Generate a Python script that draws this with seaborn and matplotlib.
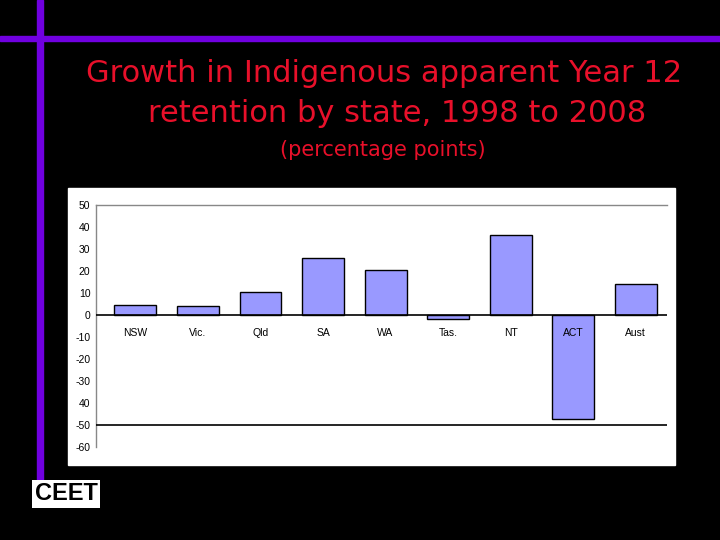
import matplotlib
matplotlib.use("Agg")
import matplotlib.pyplot as plt
import seaborn as sns
import pandas as pd
from matplotlib.patches import Rectangle

# data
states = ["NSW", "Vic.", "Qld", "SA", "WA", "Tas.", "NT", "ACT", "Aust"]
growth = [4.5, 4.0, 10.3, 25.8, 20.3, -2.0, 36.4, -47.1, 14.1]
ytick_vals = [50, 40, 30, 20, 10, 0, -10, -20, -30, -40, -50, -60]
ytick_text = ["50", "40", "30", "20", "10", "0", "-10", "-20", "-30", "40", "-50", "-60"]

df = pd.DataFrame({"state": states, "growth": growth})

sns.set_style("white")
plt.rcParams["font.family"] = ["Liberation Sans", "DejaVu Sans"]

fig = plt.figure(figsize=(7.2, 5.4), dpi=100, facecolor="black")

# purple slide frame lines
fig.add_artist(Rectangle((0, 1 - 41 / 540), 1, 5 / 540, transform=fig.transFigure,
                         color="#7000e0", zorder=0))
fig.add_artist(Rectangle((37 / 720, 1 - 480 / 540), 6 / 720, 480 / 540, transform=fig.transFigure,
                         color="#7000e0", zorder=0))

# white chart panel
fig.add_artist(Rectangle((68 / 720, 75 / 540), 607 / 720, 277 / 540, transform=fig.transFigure,
                         color="white", zorder=0))

# titles
red = "#e8102a"
fig.text(384 / 720, 1 - 73 / 540, "Growth in Indigenous apparent Year 12",
         color=red, fontsize=22, ha="center", va="center", family="DejaVu Sans")
fig.text(397 / 720, 1 - 113 / 540, "retention by state, 1998 to 2008",
         color=red, fontsize=22, ha="center", va="center", family="DejaVu Sans")
fig.text(383 / 720, 1 - 150 / 540, "(percentage points)",
         color=red, fontsize=15, ha="center", va="center", family="DejaVu Sans")

# logo placeholder
fig.text(66 / 720, 1 - 494 / 540, "CEET", color="black", fontsize=17, fontweight="bold",
         ha="center", va="center",
         bbox=dict(facecolor="white", edgecolor="none", pad=1.5))

ax = fig.add_axes([96 / 720, 1 - 447 / 540, 571 / 720, 242 / 540])
ax.set_facecolor("white")
sns.barplot(data=df, x="state", y="growth", color="#9999ff", edgecolor="black",
            linewidth=1.0, width=0.67, saturation=1, ax=ax, zorder=2)

ax.set_ylim(-60, 50)
ax.set_xlim(-0.63, len(states) - 0.5)
ax.set_yticks(ytick_vals)
ax.set_yticklabels(ytick_text)
ax.tick_params(axis="y", length=0, labelsize=7.5, pad=4, labelcolor="black")
ax.set_xticks([])
ax.set_xlabel("")
ax.set_ylabel("")

ax.axhline(0, color="black", lw=1.2, zorder=3)
ax.axhline(-50, color="black", lw=1.2, zorder=3)

for s in ["right", "bottom"]:
    ax.spines[s].set_visible(False)
for s in ["top", "left"]:
    ax.spines[s].set_color("#888888")
    ax.spines[s].set_linewidth(1.0)

for i, name in enumerate(states):
    ax.text(i, -8, name, ha="center", va="center", fontsize=7.5, color="black", zorder=4)

fig.savefig("out.png", dpi=100, facecolor="black")
